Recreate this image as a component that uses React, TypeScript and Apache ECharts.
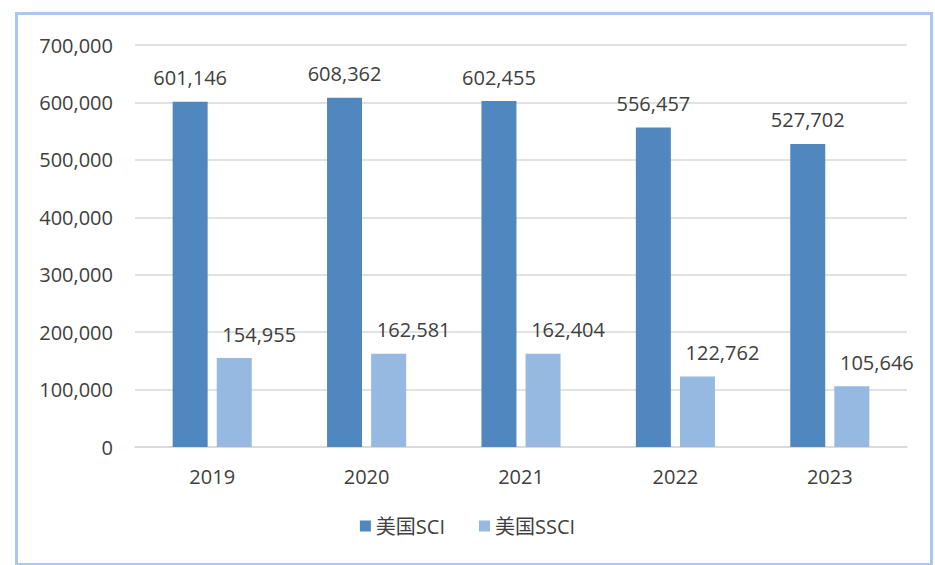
import React, { useEffect, useRef } from "react";
import * as echarts from "echarts";

const categories = ["2019", "2020", "2021", "2022", "2023"];
const sciValues = [601146, 608362, 602455, 556457, 527702];
const ssciValues = [154955, 162581, 162404, 122762, 105646];
const seriesNames = ["美国SCI", "美国SSCI"];

const fmt = (v: number) => v.toLocaleString("en-US");
const FONT = "'Open Sans', 'Noto Sans CJK SC', sans-serif";

export default function App() {
  const ref = useRef<HTMLDivElement>(null);
  useEffect(() => {
    if (!ref.current) return;
    const chart = echarts.init(ref.current, undefined, { renderer: "svg" });
    chart.setOption({
      animation: false,
      backgroundColor: "#ffffff",
      textStyle: { fontFamily: FONT },
      graphic: [
        {
          type: "rect",
          shape: { x: 16.5, y: 13.5, width: 915, height: 551 },
          style: { fill: "none", stroke: "#a9c7ef", lineWidth: 3 },
          silent: true,
        },
      ],
      grid: { left: 135, right: 28, top: 45, bottom: 118 },
      legend: {
        bottom: 24,
        left: "center",
        itemWidth: 11,
        itemHeight: 11,
        itemGap: 34,
        icon: "rect",
        textStyle: { fontSize: 20, color: "#404040", fontFamily: FONT },
        data: seriesNames,
      },
      xAxis: {
        type: "category",
        data: categories,
        axisTick: { show: false },
        axisLine: { lineStyle: { color: "#d9d9d9", width: 1.5 } },
        axisLabel: { fontSize: 20, color: "#404040", margin: 19 },
      },
      yAxis: {
        type: "value",
        min: 0,
        max: 700000,
        interval: 100000,
        axisLabel: { fontSize: 20, color: "#404040", margin: 22, formatter: (v: number) => fmt(v) },
        splitLine: { lineStyle: { color: "#d9d9d9", width: 1.5 } },
        axisLine: { show: false },
        axisTick: { show: false },
      },
      series: [
        {
          name: seriesNames[0],
          type: "bar",
          data: sciValues,
          barWidth: 35,
          barGap: "26%",
          itemStyle: { color: "#4f87be" },
          label: {
            show: true,
            position: "top",
            distance: 14,
            fontSize: 20,
            color: "#404040",
            formatter: (p: any) => fmt(p.value),
          },
        },
        {
          name: seriesNames[1],
          type: "bar",
          data: ssciValues,
          barWidth: 35,
          barGap: "26%",
          itemStyle: { color: "#95b9e0" },
          label: {
            show: true,
            position: "top",
            distance: 14,
            offset: [25, 0],
            fontSize: 20,
            color: "#404040",
            formatter: (p: any) => fmt(p.value),
          },
        },
      ],
    });
    return () => chart.dispose();
  }, []);
  return (
    <div
      ref={ref}
      style={{ position: "fixed", left: 0, top: 0, width: 935, height: 565 }}
    />
  );
}
